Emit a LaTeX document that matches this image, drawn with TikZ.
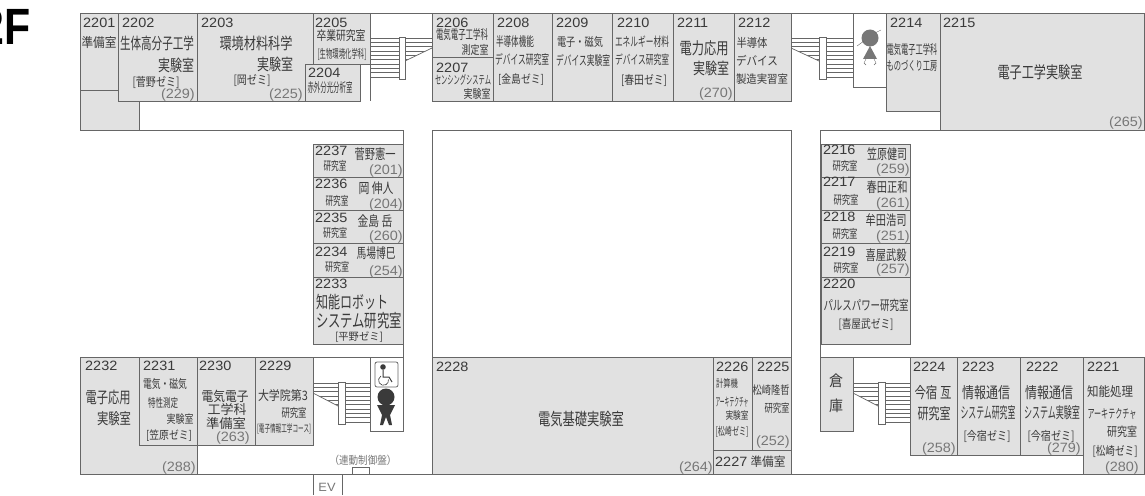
\documentclass[tikz,border=0pt]{standalone}
\usepackage{fontspec}
\setmainfont{Noto Sans CJK JP}
\newfontfamily\numfont[FakeStretch=1.07]{Liberation Sans}
\newfontfamily\headfont{Liberation Sans}
\definecolor{wallgray}{HTML}{666666}
\definecolor{roomgray}{HTML}{E1E1E1}
\definecolor{inkgray}{HTML}{3A3A3A}
\definecolor{extgray}{HTML}{777777}
% text of size #1 squeezed to width #2
\newcommand{\fitw}[3]{\resizebox{#2pt}{\height}{\fontsize{#1}{#1}\selectfont #3}}
% stairs: diagonal end, landing near, landing far, other end, top
\newcommand{\stairs}[5]{%
  \foreach \k in {0,...,9} \draw [stairline] (#1,#5+4.35*\k) -- (#4,#5+4.35*\k);
  \fill [white] (#1,#5+10) -- (#2,#5+23) -- (#2,#5+40) -- (#1,#5+40) -- cycle;
  \draw [stairline] (#1,#5+10) -- (#2,#5+23);
  \draw [stairline, fill=white] (#2,#5-1) rectangle (#3,#5+41);
}
\begin{document}
\begin{tikzpicture}[x=1pt,y=-1pt]

%styles
\tikzstyle{room} = [draw=wallgray, fill=roomgray, line width=0.8pt]
\tikzstyle{wall} = [draw=wallgray, line width=0.8pt]
\tikzstyle{stairline} = [draw=wallgray, line width=0.7pt]
\tikzstyle{numtext} = [anchor=west, inner sep=0pt, text=inkgray, font=\numfont\fontsize{13.5}{13.5}\selectfont]
\tikzstyle{exttext} = [anchor=east, inner sep=0pt, text=extgray, font=\numfont\fontsize{13.5}{13.5}\selectfont]
\tikzstyle{jptext} = [inner sep=0pt, text=inkgray]

\useasboundingbox (0,0) rectangle (1145,495);

%stairs
\stairs{791}{819}{826}{853}{38}
\stairs{432}{405}{399}{370}{38}
\stairs{313}{338}{345}{370}{383}
\stairs{853}{878}{885}{910}{383}

%rooms top
\draw [room] (80,90) -- (118,90) -- (118,101) -- (139,101) -- (139,130) -- (80,130) -- cycle;
\draw [room] (80,13) rectangle (118,90);
\draw [room] (118,13) rectangle (197,101);
\draw [room] (197,13) -- (313,13) -- (313,64) -- (305,64) -- (305,101) -- (197,101) -- cycle;
\draw [room] (313,13) rectangle (370,64);
\draw [room] (305,64) rectangle (360,101);
\draw [room] (432,13) rectangle (493,57);
\draw [room] (432,57) rectangle (493,101);
\draw [room] (493,13) rectangle (552,101);
\draw [room] (552,13) rectangle (612,101);
\draw [room] (612,13) rectangle (673,101);
\draw [room] (673,13) rectangle (734,101);
\draw [room] (734,13) rectangle (791,101);
\draw [room] (886,13) rectangle (940,111);
\draw [room] (940,13) rectangle (1144,130);
\draw [wall] (853,13) rectangle (886,87);
\draw [wall] (80,13) -- (1144,13);
\draw [wall] (370,13) -- (370,101);
\draw [wall] (791,13) -- (791,101);

%corridor walls
\draw [wall] (80,130) -- (403,130) -- (403,357) -- (80,357);
\draw [wall] (791,474) -- (791,130) -- (432,130) -- (432,357);
\draw [wall] (940,130) -- (820,130) -- (820,357) -- (1144,357);
\draw [wall] (80,474) -- (1144,474);

%rooms left column
\draw [room] (313,144) rectangle (403,177);
\draw [room] (313,177) rectangle (403,210);
\draw [room] (313,210) rectangle (403,243);
\draw [room] (313,243) rectangle (403,277);
\draw [room] (313,277) rectangle (403,344);

%rooms right column
\draw [room] (821,144) rectangle (910,177);
\draw [room] (821,177) rectangle (910,210);
\draw [room] (821,210) rectangle (910,243);
\draw [room] (821,243) rectangle (910,277);
\draw [room] (821,277) rectangle (910,344);

%rooms bottom
\draw [room] (80,357) rectangle (197,474);
\draw [room] (139,357) rectangle (197,445);
\draw [room] (197,357) rectangle (255,445);
\draw [room] (255,357) rectangle (313,445);
\draw [wall] (370,357) rectangle (403,431);
\draw [room] (432,357) rectangle (713,474);
\draw [room] (713,357) rectangle (752,450);
\draw [room] (752,357) rectangle (791,450);
\draw [room] (713,450) rectangle (791,474);
\draw [room] (820,357) rectangle (853,431);
\draw [room] (910,357) rectangle (957,455);
\draw [room] (957,357) rectangle (1020,455);
\draw [room] (1020,357) rectangle (1083,455);
\draw [room] (1083,357) rectangle (1144,474);

%ev and panel
\draw [wall] (313,474) -- (313,495);
\draw [wall] (342,474) -- (342,495);
\draw [wall, fill=white] (352,467) rectangle (369,474);

%person top
\fill [extgray] (870,38) circle (8.5);
\fill [extgray] (870,46) -- (877,59) -- (863,59) -- cycle;
\draw [wall, line width=0.4pt] (857,46) -- (864,41);
\draw [wall, line width=0.4pt] (875,33) -- (881,30);
\draw [wall, line width=0.4pt] (866,59) -- (864,63) -- (866,65);
\draw [wall, line width=0.4pt] (874,59) -- (876,63) -- (874,65);

%person bottom
\fill [inkgray] (386,397) circle (8.5);
\fill [inkgray] (377,405) -- (395,405) -- (390,415) -- (392,425) -- (389,425) -- (386,417) -- (383,425) -- (380,425) -- (382,415) -- cycle;

%wheelchair
\draw [wall, rounded corners=2pt] (375,362) rectangle (398,387);
\fill [inkgray] (383,367) circle (2.8);
\draw [inkgray, line width=1pt] (383,370) -- (383,377) -- (389,377) -- (392,382);
\draw [inkgray, line width=0.6pt] (381,376) arc (240:-10:5);

%title
\node (title) [anchor=base east, inner sep=0pt] at (31,45) {\resizebox{50pt}{\height}{\headfont\fontsize{51}{51}\selectfont\bfseries 2F}};

%numbers
\node (n2201) [numtext] at (83,23) {2201};
\node (n2202) [numtext] at (122,23) {2202};
\node (n2203) [numtext] at (201,23) {2203};
\node (n2204) [numtext] at (308,73) {2204};
\node (n2205) [numtext] at (315,23) {2205};
\node (n2206) [numtext] at (436,23) {2206};
\node (n2207) [numtext] at (436,68) {2207};
\node (n2208) [numtext] at (497,23) {2208};
\node (n2209) [numtext] at (556,23) {2209};
\node (n2210) [numtext] at (617,23) {2210};
\node (n2211) [numtext] at (677,23) {2211};
\node (n2212) [numtext] at (738,23) {2212};
\node (n2214) [numtext] at (890,23) {2214};
\node (n2215) [numtext] at (943,23) {2215};
\node (n2216) [numtext] at (823,150) {2216};
\node (n2217) [numtext] at (823,182) {2217};
\node (n2218) [numtext] at (823,217) {2218};
\node (n2219) [numtext] at (823,252) {2219};
\node (n2220) [numtext] at (823,284) {2220};
\node (n2221) [numtext] at (1087,367) {2221};
\node (n2222) [numtext] at (1026,367) {2222};
\node (n2223) [numtext] at (962,367) {2223};
\node (n2224) [numtext] at (913,367) {2224};
\node (n2225) [numtext] at (757,367) {2225};
\node (n2226) [numtext] at (716,367) {2226};
\node (n2227) [numtext] at (715,462) {2227};
\node (n2228) [numtext] at (436,367) {2228};
\node (n2229) [numtext] at (259,366) {2229};
\node (n2230) [numtext] at (199,366) {2230};
\node (n2231) [numtext] at (143,366) {2231};
\node (n2232) [numtext] at (85,366) {2232};
\node (n2233) [numtext] at (315,284) {2233};
\node (n2234) [numtext] at (315,252) {2234};
\node (n2235) [numtext] at (315,218) {2235};
\node (n2236) [numtext] at (315,184) {2236};
\node (n2237) [numtext] at (315,151) {2237};

%extensions
\node (x229) [exttext] at (195,95) {(229)};
\node (x225) [exttext] at (303,95) {(225)};
\node (x270) [exttext] at (733,94) {(270)};
\node (x265) [exttext] at (1143,123) {(265)};
\node (x201) [exttext] at (403,171) {(201)};
\node (x204) [exttext] at (403,205) {(204)};
\node (x260) [exttext] at (403,237) {(260)};
\node (x254) [exttext] at (403,272) {(254)};
\node (x259) [exttext] at (910,170) {(259)};
\node (x261) [exttext] at (910,204) {(261)};
\node (x251) [exttext] at (910,237) {(251)};
\node (x257) [exttext] at (910,270) {(257)};
\node (x288) [exttext] at (196,468) {(288)};
\node (x263) [exttext] at (250,438) {(263)};
\node (x264) [exttext] at (713,468) {(264)};
\node (x252) [exttext] at (790,442) {(252)};
\node (x258) [exttext] at (956,449) {(258)};
\node (x279) [exttext] at (1081,449) {(279)};
\node (x280) [exttext] at (1139,468) {(280)};

%labels top
\node (l2201) [jptext] at (99,43) {\fitw{13}{35}{準備室}};
\node (l2202a) [jptext] at (157,43) {\fitw{16}{74}{生体高分子工学}};
\node (l2202b) [jptext] at (176,65) {\fitw{16}{36}{実験室}};
\node (l2202c) [jptext] at (156,82) {\fitw{12}{47}{[菅野ゼミ]}};
\node (l2203a) [jptext] at (256,43) {\fitw{16}{73}{環境材料科学}};
\node (l2203b) [jptext] at (275,64) {\fitw{16}{36}{実験室}};
\node (l2203c) [jptext] at (252,81) {\fitw{12}{37}{[岡ゼミ]}};
\node (l2205a) [jptext] at (341,36) {\fitw{13}{49}{卒業研究室}};
\node (l2205b) [jptext] at (342,54) {\fitw{12}{49}{[生物環境化学科]}};
\node (l2204) [jptext] at (330,88) {\fitw{13}{45}{赤外分光分析室}};
\node (l2206a) [jptext] at (462,35) {\fitw{13}{52}{電気電子工学科}};
\node (l2206b) [jptext] at (475,50) {\fitw{12}{27}{測定室}};
\node (l2207a) [jptext] at (463,80) {\fitw{12}{56}{センシングシステム}};
\node (l2207b) [jptext] at (477,94) {\fitw{12}{27}{実験室}};
\node (l2208a) [jptext] at (515,42) {\fitw{13}{38}{半導体機能}};
\node (l2208b) [jptext] at (522,60) {\fitw{13}{54}{デバイス研究室}};
\node (l2208c) [jptext] at (521,80) {\fitw{11.5}{46}{[金島ゼミ]}};
\node (l2209a) [jptext] at (580,42) {\fitw{12}{46}{電子・磁気}};
\node (l2209b) [jptext] at (583,60) {\fitw{13}{54}{デバイス実験室}};
\node (l2210a) [jptext] at (642,42) {\fitw{12.5}{54}{エネルギー材料}};
\node (l2210b) [jptext] at (642,60) {\fitw{12.5}{54}{デバイス研究室}};
\node (l2210c) [jptext] at (644,80) {\fitw{12}{46}{[春田ゼミ]}};
\node (l2211a) [jptext] at (704,48) {\fitw{16.5}{49}{電力応用}};
\node (l2211b) [jptext] at (711,68) {\fitw{16}{36}{実験室}};
\node (l2212a) [jptext] at (752,43) {\fitw{12}{31}{半導体}};
\node (l2212b) [jptext] at (757,61) {\fitw{12}{42}{デバイス}};
\node (l2212c) [jptext] at (762,79) {\fitw{11.5}{52}{製造実習室}};
\node (l2214a) [jptext] at (912,50) {\fitw{13}{51}{電気電子工学科}};
\node (l2214b) [jptext] at (912,66) {\fitw{12.5}{51}{ものづくり工房}};
\node (l2215) [jptext] at (1040,72) {\fitw{16.5}{85}{電子工学実験室}};

%labels left column
\node (l2237a) [jptext] at (375,154) {\fitw{14}{41}{菅野憲一}};
\node (l2237b) [jptext] at (335,166) {\fitw{12}{23}{研究室}};
\node (l2236a) [jptext] at (376,188) {\fitw{14}{35}{岡 伸人}};
\node (l2236b) [jptext] at (337,201) {\fitw{12}{23}{研究室}};
\node (l2235a) [jptext] at (375,221) {\fitw{14}{35}{金島 岳}};
\node (l2235b) [jptext] at (335,233) {\fitw{12}{24}{研究室}};
\node (l2234a) [jptext] at (376,253) {\fitw{14}{39}{馬場博巳}};
\node (l2234b) [jptext] at (337,267) {\fitw{12}{24}{研究室}};
\node (l2233a) [jptext] at (352,302) {\fitw{17}{72}{知能ロボット}};
\node (l2233b) [jptext] at (359,321) {\fitw{18}{86}{システム研究室}};
\node (l2233c) [jptext] at (359,337) {\fitw{10.5}{48}{[平野ゼミ]}};

%labels right column
\node (l2216a) [jptext] at (887,154) {\fitw{14}{40}{笠原健司}};
\node (l2216b) [jptext] at (845,166) {\fitw{12}{25}{研究室}};
\node (l2217a) [jptext] at (887,187) {\fitw{14}{41}{春田正和}};
\node (l2217b) [jptext] at (846,200) {\fitw{12}{25}{研究室}};
\node (l2218a) [jptext] at (886,220) {\fitw{14}{41}{牟田浩司}};
\node (l2218b) [jptext] at (845,234) {\fitw{12}{25}{研究室}};
\node (l2219a) [jptext] at (886,255) {\fitw{14}{41}{喜屋武毅}};
\node (l2219b) [jptext] at (846,268) {\fitw{12}{25}{研究室}};
\node (l2220a) [jptext] at (866,305) {\fitw{13.5}{85}{パルスパワー研究室}};
\node (l2220b) [jptext] at (866,324) {\fitw{12}{55}{[喜屋武ゼミ]}};

%labels bottom
\node (l2232a) [jptext] at (108,397) {\fitw{16}{45}{電子応用}};
\node (l2232b) [jptext] at (114,419) {\fitw{15.5}{34}{実験室}};
\node (l2231a) [jptext] at (165,384) {\fitw{12}{44}{電気・磁気}};
\node (l2231b) [jptext] at (163,403) {\fitw{12}{30}{特性測定}};
\node (l2231c) [jptext] at (180,419) {\fitw{11.5}{27}{実験室}};
\node (l2231d) [jptext] at (169,436) {\fitw{11.5}{46}{[笠原ゼミ]}};
\node (l2230a) [jptext] at (225,396) {\fitw{13.5}{47}{電気電子}};
\node (l2230b) [jptext] at (227,410) {\fitw{13}{39}{工学科}};
\node (l2230c) [jptext] at (226,424) {\fitw{13}{40}{準備室}};
\node (l2229a) [jptext] at (283,396) {\fitw{13}{50}{大学院第3}};
\node (l2229b) [jptext] at (294,413) {\fitw{12}{25}{研究室}};
\node (l2229c) [jptext] at (284,429) {\fitw{10.5}{54}{[電子情報工学コース]}};
\node (lpanel) [jptext, text=extgray] at (363,460) {\fitw{11}{67}{（連動制御盤）}};
\node (lev) [jptext, text=extgray] at (327,487) {\numfont\fontsize{12}{12}\selectfont EV};
\node (l2228) [jptext] at (581,419) {\fitw{17}{86}{電気基礎実験室}};
\node (l2226a) [jptext] at (727,383) {\fitw{10.5}{22}{計算機}};
\node (l2226b) [jptext] at (732,402) {\fitw{12}{33}{アーキテクチャ}};
\node (l2226c) [jptext] at (737,416) {\fitw{10.5}{23}{実験室}};
\node (l2226d) [jptext] at (732,432) {\fitw{11}{33}{[松崎ゼミ]}};
\node (l2225a) [jptext] at (771,390) {\fitw{11.5}{37}{松崎隆哲}};
\node (l2225b) [jptext] at (777,408) {\fitw{11.5}{25}{研究室}};
\node (l2227) [jptext] at (768,462) {\fitw{12.5}{35}{準備室}};
\node (lstoreA) [jptext] at (836,381) {\fitw{15}{14}{倉}};
\node (lstoreB) [jptext] at (836,406) {\fitw{15}{14}{庫}};
\node (l2224a) [jptext] at (933,393) {\fitw{15.5}{37}{今宿 亙}};
\node (l2224b) [jptext] at (934,414) {\fitw{15.5}{33}{研究室}};
\node (l2223a) [jptext] at (986,393) {\fitw{15.5}{48}{情報通信}};
\node (l2223b) [jptext] at (988,413) {\fitw{15.5}{55}{システム研究室}};
\node (l2223c) [jptext] at (987,436) {\fitw{12}{47}{[今宿ゼミ]}};
\node (l2222a) [jptext] at (1049,393) {\fitw{15.5}{48}{情報通信}};
\node (l2222b) [jptext] at (1052,413) {\fitw{15.5}{56}{システム実験室}};
\node (l2222c) [jptext] at (1051,436) {\fitw{12}{47}{[今宿ゼミ]}};
\node (l2221a) [jptext] at (1110,392) {\fitw{13}{46}{知能処理}};
\node (l2221b) [jptext] at (1112,414) {\fitw{12.5}{49}{アーキテクチャ}};
\node (l2221c) [jptext] at (1122,432) {\fitw{12.5}{30}{研究室}};
\node (l2221d) [jptext] at (1115,451) {\fitw{12}{45}{[松崎ゼミ]}};

\end{tikzpicture}
\end{document}
